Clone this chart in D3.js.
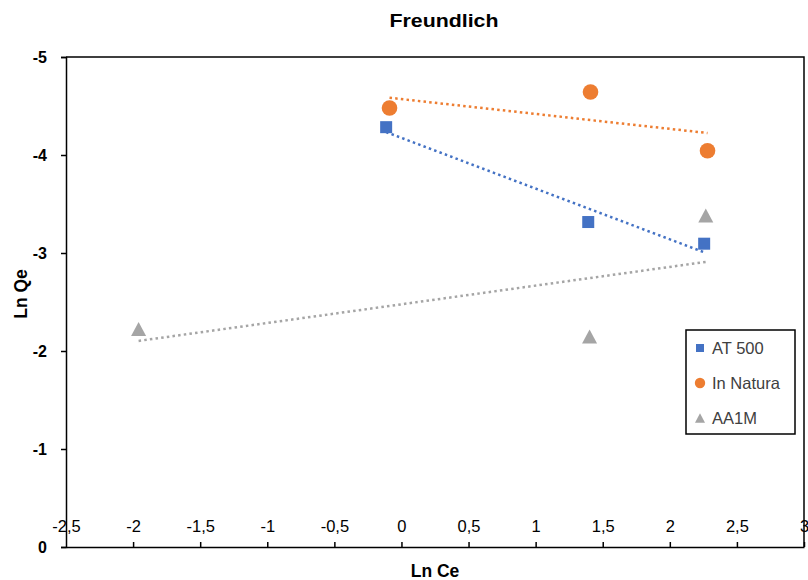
<!DOCTYPE html>
<html>
<head>
<meta charset="utf-8">
<script src="https://cdn.jsdelivr.net/npm/d3@7"></script>
<style>
  body { margin: 0; background: #fff; }
  text { font-family: "Liberation Sans", Arial, sans-serif; }
</style>
</head>
<body>
<div id="chart"></div>
<script>
// data
let seriesNames = ["AT 500", "In Natura", "AA1M"];
let seriesColors = ["#4472C4", "#ED7D31", "#A5A5A5"];
let at500X = [-0.114, 1.392, 2.256];
let at500Y = [-4.284, -3.316, -3.095];
let naturaX = [-0.089, 1.409, 2.281];
let naturaY = [-4.479, -4.643, -4.043];
let aa1mX = [-1.959, 1.402, 2.268];
let aa1mY = [-2.225, -2.148, -3.383];
let xTicks = [-2.5, -2, -1.5, -1, -0.5, 0, 0.5, 1, 1.5, 2, 2.5, 3];
let yTicks = [-5, -4, -3, -2, -1, 0];

let margin = {top: 57, right: 4, bottom: 33, left: 66},
    width = 808 - margin.left - margin.right,
    height = 580 - margin.top - margin.bottom;

let svg = d3.select("#chart")
    .append("svg")
    .attr("width", 808)
    .attr("height", 580);

let g = svg.append("g")
    .attr("transform", "translate(" + margin.left + "," + margin.top + ")");

let x = d3.scaleLinear().domain([-2.5, 3]).range([0, width]);
// reversed axis: 0 at bottom, -5 at top
let y = d3.scaleLinear().domain([0, -5]).range([height, 0]);

let commaFmt = d => String(d).replace(".", ",");

// plot border (top + right)
g.append("path")
    .attr("d", "M0,0H" + width + "V" + height)
    .attr("fill", "none")
    .attr("stroke", "#000")
    .attr("stroke-width", 1.5);

// y axis
let yAxis = g.append("g")
    .call(d3.axisLeft(y).tickValues(yTicks).tickSize(5).tickPadding(14).tickFormat(commaFmt));
yAxis.select(".domain").attr("stroke", "#000").attr("stroke-width", 1.5);
yAxis.selectAll(".tick line").attr("stroke", "#000").attr("stroke-width", 1.5);
yAxis.selectAll("text")
    .style("font-size", "16px")
    .style("font-weight", "bold")
    .attr("fill", "#000");

// x axis sits on y=0 with labels above the line
let xAxis = g.append("g")
    .attr("transform", "translate(0," + y(0) + ")")
    .call(d3.axisTop(x).tickValues(xTicks).tickSize(5).tickPadding(10).tickSizeOuter(0).tickFormat(commaFmt));
xAxis.select(".domain").attr("stroke", "#000").attr("stroke-width", 1.5);
xAxis.selectAll(".tick line").attr("stroke", "#000").attr("stroke-width", 1.5);
xAxis.selectAll("text")
    .style("font-size", "16.5px")
    .attr("fill", "#000");
// left tick of the x axis (the 0 tick of y runs across it anyway)
xAxis.selectAll(".tick").filter(d => d === -2.5).select("line").remove();

function series(xs, ys) {
    return xs.map((v, i) => ({x: v, y: ys[i]}));
}
let allSeries = [series(at500X, at500Y), series(naturaX, naturaY), series(aa1mX, aa1mY)];

// least squares trendline, drawn across the series' x range
function trend(pts) {
    let mx = d3.mean(pts, d => d.x), my = d3.mean(pts, d => d.y);
    let sxy = d3.sum(pts, d => (d.x - mx) * (d.y - my));
    let sxx = d3.sum(pts, d => (d.x - mx) * (d.x - mx));
    let b = sxy / sxx, a = my - b * mx;
    let x0 = d3.min(pts, d => d.x), x1 = d3.max(pts, d => d.x);
    return [{x: x0, y: a + b * x0}, {x: x1, y: a + b * x1}];
}

let line = d3.line().x(d => x(d.x)).y(d => y(d.y));

allSeries.forEach((pts, i) => {
    g.append("path")
        .datum(trend(pts))
        .attr("d", line)
        .attr("fill", "none")
        .attr("stroke", seriesColors[i])
        .attr("stroke-width", 2.5)
        .attr("stroke-dasharray", "2.5,3.2");
});

// markers
function marker(sel, i, s) {
    if (i === 0) {
        sel.append("rect").attr("x", -s / 2).attr("y", -s / 2).attr("width", s).attr("height", s);
    } else if (i === 1) {
        sel.append("circle").attr("r", s * 0.65);
    } else {
        let w = s * 1.25, h = s * 1.17;
        sel.append("path").attr("d", "M0," + (-h / 2) + "L" + (w / 2) + "," + (h / 2) + "L" + (-w / 2) + "," + (h / 2) + "Z");
    }
    sel.attr("fill", seriesColors[i]);
}

allSeries.forEach((pts, i) => {
    g.append("g")
        .selectAll("g")
        .data(pts)
        .enter()
        .append("g")
        .attr("transform", d => "translate(" + x(d.x) + "," + y(d.y) + ")")
        .each(function () { marker(d3.select(this), i, 12); });
});

// legend
let legend = svg.append("g").attr("transform", "translate(686,330)");
legend.append("rect")
    .attr("width", 109)
    .attr("height", 104)
    .attr("fill", "#fff")
    .attr("stroke", "#000")
    .attr("stroke-width", 1.5);
seriesNames.forEach((name, i) => {
    let item = legend.append("g").attr("transform", "translate(14," + (18 + i * 35) + ")");
    item.append("g").call(sel => marker(sel, i, 8));
    item.append("text")
        .attr("x", 12)
        .attr("dy", "0.35em")
        .style("font-size", "16.5px")
        .attr("fill", "#404040")
        .text(name);
});

// titles
svg.append("text")
    .attr("x", 444)
    .attr("y", 27)
    .attr("text-anchor", "middle")
    .style("font-size", "18px")
    .style("font-weight", "bold")
    .attr("textLength", 109)
    .attr("lengthAdjust", "spacingAndGlyphs")
    .text("Freundlich");

svg.append("text")
    .attr("x", margin.left + width / 2)
    .attr("y", 577)
    .attr("text-anchor", "middle")
    .style("font-size", "17.5px")
    .style("font-weight", "bold")
    .text("Ln Ce");

svg.append("text")
    .attr("transform", "translate(27,294) rotate(-90)")
    .attr("text-anchor", "middle")
    .style("font-size", "17.5px")
    .style("font-weight", "bold")
    .text("Ln Qe");
</script>
</body>
</html>
